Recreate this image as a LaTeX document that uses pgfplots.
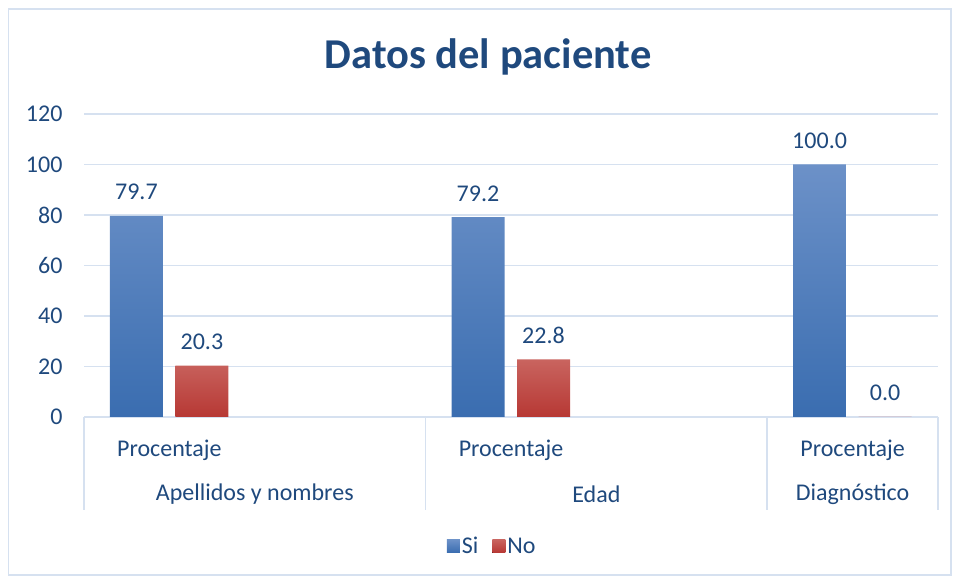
\documentclass[border=0pt]{standalone}
\usepackage{pgfplots}
\pgfplotsset{compat=1.18}
\usepackage{fontspec}
\setmainfont{Carlito}
\definecolor{txt}{HTML}{1F497D}
\definecolor{gridc}{HTML}{D6E1F0}
\definecolor{siTop}{HTML}{6C91C8}
\definecolor{siBot}{HTML}{3A6DB0}
\definecolor{noTop}{HTML}{C9645F}
\definecolor{noBot}{HTML}{B73834}
\begin{document}
\begin{tikzpicture}[x=1pt,y=1pt]
\useasboundingbox (0,0) rectangle (956,577);
\draw[gridc, line width=1.5pt] (8.5,2) rectangle (951,568);
\node[font=\fontsize{42.5}{50}\selectfont\bfseries, text=txt] at (488,520) {Datos del paciente};
\begin{axis}[
  at={(84pt,160pt)}, anchor=south west,
  width=854pt, height=303pt, scale only axis,
  xmin=0, xmax=2.5, ymin=0, ymax=120,
  ytick={0,20,...,120},
  xtick={0.25,1.25,2.25},
  xticklabels={Procentaje,Procentaje,Procentaje},
  axis line style={draw=none},
  major tick length=0pt,
  /pgf/number format/assume math mode=true,
  ymajorgrids, grid style={gridc, line width=1.5pt},
  tick label style={font=\fontsize{24}{28}\selectfont, text=txt},
  yticklabel style={xshift=-18pt},
  xticklabel style={yshift=-19pt},
  ybar, bar width=53pt,
  legend image code/.code={\fill[#1] (0pt,-6.5pt) rectangle (13pt,6.5pt);},
  legend style={at={(0.478,-0.426)}, anchor=center, draw=none, fill=none,
    legend columns=2, font=\fontsize{24}{28}\selectfont, text=txt,
    /tikz/every even column/.append style={column sep=12pt}},
  nodes near coords={\pgfmathprintnumber[fixed,fixed zerofill,precision=1,assume math mode=true]{\pgfplotspointmeta}},
  every node near coord/.append style={font=\fontsize{24}{28}\selectfont, text=txt, anchor=base, yshift=16pt},
  clip=false,
]
\addplot[bar shift=-33pt, draw=none, top color=siTop, bottom color=siBot]
  coordinates {(0.25,79.7) (1.25,79.2) (2.25,100.0)};
\addplot[bar shift=32.5pt, draw=none, top color=noTop, bottom color=noBot]
  coordinates {(0.25,20.3) (1.25,22.8) (2.25,0.0)};
\legend{Si,No}
\draw[gridc, line width=1.5pt] (axis cs:0,0) -- ++(0pt,-93pt);
\draw[gridc, line width=1.5pt] (axis cs:1,0) -- ++(0pt,-93pt);
\draw[gridc, line width=1.5pt] (axis cs:2,0) -- ++(0pt,-93pt);
\draw[gridc, line width=1.5pt] (axis cs:2.5,0) -- ++(0pt,-93pt);
\node[font=\fontsize{24}{28}\selectfont, text=txt] at (axis cs:0.5,0) [yshift=-77pt] {Apellidos y nombres};
\node[font=\fontsize{24}{28}\selectfont, text=txt] at (axis cs:1.5,0) [yshift=-77pt] {Edad};
\node[font=\fontsize{24}{28}\selectfont, text=txt] at (axis cs:2.25,0) [yshift=-77pt] {Diagnóstico};
\end{axis}
\end{tikzpicture}
\end{document}
